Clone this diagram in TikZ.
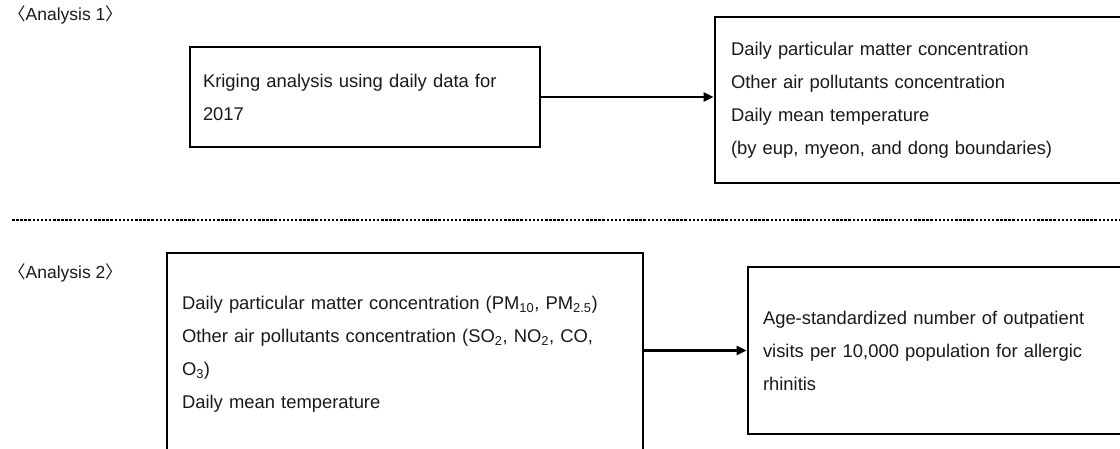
\documentclass[tikz,border=0pt]{standalone}
\usepackage{fontspec}
\setmainfont{Liberation Sans}
\newfontfamily\cjk{Noto Sans CJK KR}
\usetikzlibrary{arrows.meta}
\tikzset{
  box/.style={draw, line width=2.9pt, rectangle, align=left, inner xsep=0pt, inner ysep=0pt,
    font=\fontsize{18.4}{33}\selectfont, text=black!90},
  conn/.style={line width=2.4pt, -{Triangle[length=10pt,width=9pt]}},
  lab/.style={anchor=west, inner sep=0pt, font=\fontsize{17.5}{20}\selectfont, text=black!90},
  sep/.style={line width=2.6pt, dash pattern=on 2.5pt off 1.6pt}
}
\begin{document}
\begin{tikzpicture}[x=1pt,y=-1pt]
\useasboundingbox (0,0) rectangle (1120,448);
\node[lab] (lab1) at (8,15) {{\cjk 〈}Analysis 1{\cjk 〉}};
\node[box, minimum width=350pt, minimum height=100pt, text width=324pt] (box1) at (365,97)
  {Kriging analysis using daily data for\\2017};
\node[box, minimum width=412pt, minimum height=166pt, text width=380pt] (box2) at (921,100)
  {Daily particular matter concentration\\Other air pollutants concentration\\Daily mean temperature\\(by eup, myeon, and dong boundaries)};
\draw[conn] (box1.east) -- (box1.east -| box2.west);
\coordinate (s1) at (12,220);
\coordinate (s2) at (1120,220);
\draw[sep] (s1) -- (s2);
\node[lab] (lab2) at (8,273) {{\cjk 〈}Analysis 2{\cjk 〉}};
\node[box, minimum width=476pt, minimum height=202pt, text width=446pt] (box3) at (405,354)
  {Daily particular matter concentration (PM\textsubscript{10}, PM\textsubscript{2.5})\\Other air pollutants concentration (SO\textsubscript{2}, NO\textsubscript{2}, CO,\\O\textsubscript{3})\\Daily mean temperature};
\node[box, minimum width=379pt, minimum height=167pt, text width=349pt] (box4) at (937.5,350.5)
  {Age-standardized number of outpatient\\visits per 10,000 population for allergic\\rhinitis};
\draw[conn] (box3.east |- box4.west) -- (box4.west);
\end{tikzpicture}
\end{document}
